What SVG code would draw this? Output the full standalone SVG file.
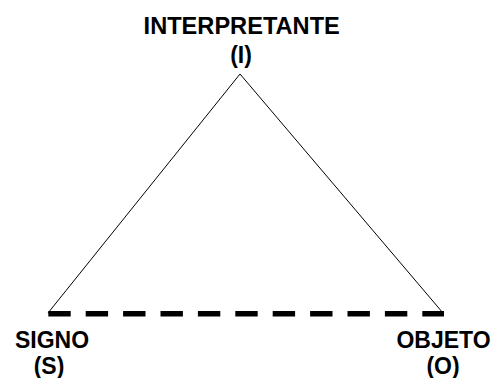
<svg xmlns="http://www.w3.org/2000/svg" width="495" height="378" viewBox="0 0 495 378">
<style>
text{font-family:"Liberation Sans",Arial,sans-serif;font-weight:bold;font-size:23px;fill:#000;text-anchor:middle}
</style>
<rect width="495" height="378" fill="#fff"/>
<g id="connectors">
<line x1="48" y1="313" x2="240" y2="74" stroke="#000" stroke-width="1"/>
<line x1="443" y1="313" x2="240" y2="74" stroke="#000" stroke-width="1"/>
<line x1="48.3" y1="313.8" x2="444" y2="313.8" stroke="#000" stroke-width="5.5" stroke-dasharray="22.4 15"/>
</g>
<g id="interpretante"><text x="241.7" y="34" style="font-size:23.6px">INTERPRETANTE</text><text x="241" y="63">(I)</text></g>
<g id="signo"><text x="52" y="347.5">SIGNO</text><text x="49" y="373.5">(S)</text></g>
<g id="objeto"><text x="443.5" y="347.5">OBJETO</text><text x="443" y="373.5">(O)</text></g>
</svg>
